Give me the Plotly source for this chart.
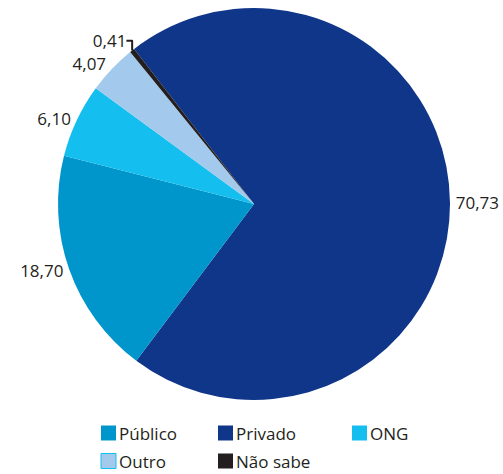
import plotly.graph_objects as go

# slices in clockwise order, starting at the edge shared with "Não sabe"
SLICE_LABELS = ["Privado", "Público", "ONG", "Outro", "Não sabe"]
SLICE_VALUES = [70.73, 18.70, 6.10, 4.07, 0.41]
SLICE_COLORS = ["#10368a", "#0096cc", "#14bfef", "#a3c9ec", "#231f20"]

# legend order as printed under the chart
LEGEND_LABELS = ["Público", "Privado", "ONG", "Outro", "Não sabe"]

W, H = 503, 474
FONT = "Open Sans, Noto Sans, Liberation Sans, sans-serif"
TEXT_COLOR = "#231f20"

fig = go.Figure()

fig.add_trace(
    go.Pie(
        labels=SLICE_LABELS,
        values=SLICE_VALUES,
        marker={"colors": SLICE_COLORS, "line": {"width": 0}},
        sort=False,
        direction="clockwise",
        rotation=-37.7,
        textposition="outside",
        texttemplate="%{value:.2f}",
        textfont={"size": 17, "color": TEXT_COLOR, "family": FONT},
        showlegend=False,
        hoverinfo="label+value",
        domain={"x": [58 / W, 450 / W], "y": [(H - 400) / H, (H - 8) / H]},
    )
)

# hand-made legend: two rows, three columns
color_of = dict(zip(SLICE_LABELS, SLICE_COLORS))
col_x = [101, 218, 352]
row_y = [433, 461]
shapes = []
annotations = []
for i, name in enumerate(LEGEND_LABELS):
    x0 = col_x[i % 3]
    yc = row_y[i // 3]
    shapes.append(
        dict(
            type="rect",
            xref="paper",
            yref="paper",
            x0=x0 / W,
            x1=(x0 + 15) / W,
            y0=(H - yc - 7.5) / H,
            y1=(H - yc + 7.5) / H,
            fillcolor=color_of[name],
            line={"width": 1 if name == "Outro" else 0, "color": "#14bfef"},
        )
    )
    annotations.append(
        dict(
            xref="paper",
            yref="paper",
            x=(x0 + 16) / W,
            y=(H - yc) / H,
            text=name,
            showarrow=False,
            xanchor="left",
            yanchor="middle",
            font={"size": 17, "color": TEXT_COLOR, "family": FONT},
        )
    )

fig.update_layout(
    width=W,
    height=H,
    margin={"l": 0, "r": 0, "t": 0, "b": 0},
    paper_bgcolor="white",
    plot_bgcolor="white",
    separators=", ",
    shapes=shapes,
    annotations=annotations,
    font={"family": FONT, "color": TEXT_COLOR},
)

# drop the browser's default 8px body margin so the figure fills the window
fig.write_html(
    "out.html",
    config={"displayModeBar": False},
    post_script="document.body.style.margin = '0';",
)
